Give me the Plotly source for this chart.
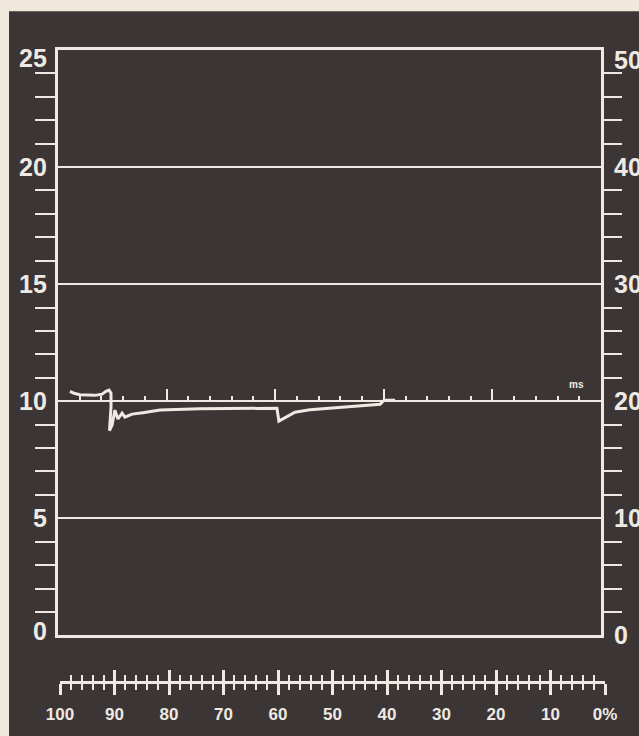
import plotly.graph_objects as go

# ---------------- data ----------------
trace_ms = [0.55, 0.74, 1.01, 1.70, 2.03, 2.21, 2.35, 2.44, 2.44, 2.39, 2.37, 2.49, 2.62,
            2.76, 2.95, 3.08, 3.41, 3.91, 4.70, 6.54, 8.84, 10.08, 10.17, 10.36, 10.91,
            11.60, 13.90, 14.83, 15.01, 15.52]
trace_val = [10.42, 10.34, 10.28, 10.25, 10.30, 10.42, 10.47, 10.34, 9.75, 9.11, 8.75, 8.98,
             9.62, 9.24, 9.49, 9.32, 9.45, 9.51, 9.62, 9.68, 9.70, 9.70, 9.15, 9.24, 9.53,
             9.64, 9.79, 9.87, 10.04, 10.04]

left_labels = [0, 5, 10, 15, 20, 25]
right_labels = [0, 10, 20, 30, 40, 50]
left_minor = [v for v in range(0, 26) if v % 5 != 0]
right_minor = [v for v in range(0, 51, 2) if v % 10 != 0]
ms_major = [5, 10, 15, 20]
ms_minor = [v for v in range(1, 25) if v % 5 != 0]
pct_vals = list(range(0, 101, 10))
pct_text = ["0%" if v == 0 else str(v) for v in pct_vals]
pct_minor = [v for v in range(0, 101, 2) if v % 10 != 0]

# ---------------- style ----------------
W, H = 639, 736
ML, MR, MT, MB = 58, 34, 50, 50
DARK = "#3b3535"
BEIGE = "#f1e8dc"
INK = "#eee9e2"
FONT = "Liberation Sans"

plot_w = W - ML - MR
plot_h = H - MT - MB
x_dom_end = (601 - ML) / plot_w
y_dom_start = (686 - 640) / plot_h
ms_line_value = 10
ms_pos = y_dom_start + ms_line_value / 25 * (1 - y_dom_start)

fig = go.Figure()

fig.add_trace(go.Scatter(x=trace_ms, y=trace_val, mode="lines",
                         line=dict(color=INK, width=3, shape="linear"),
                         xaxis="x", yaxis="y", showlegend=False, hoverinfo="skip"))
# helper empty traces to register axes
fig.add_trace(go.Scatter(x=[None], y=[None], xaxis="x", yaxis="y2", showlegend=False))
fig.add_trace(go.Scatter(x=[None], y=[None], xaxis="x2", yaxis="y3", showlegend=False))
fig.add_trace(go.Scatter(x=[None], y=[None], xaxis="x3", yaxis="y3", showlegend=False))
fig.add_trace(go.Scatter(x=[None], y=[None], xaxis="x4", yaxis="y", showlegend=False))

axis_off = dict(showgrid=False, zeroline=False, showticklabels=False)

fig.update_layout(
    width=W, height=H,
    margin=dict(l=ML, r=MR, t=MT, b=MB, pad=0),
    paper_bgcolor=DARK, plot_bgcolor="rgba(0,0,0,0)",
    showlegend=False,
    xaxis=dict(domain=[0, x_dom_end], range=[0, 25], anchor="y",
               showline=True, mirror=True, linecolor=INK, linewidth=3,
               ticks="", **axis_off),
    yaxis=dict(domain=[y_dom_start, 1], range=[0, 25], anchor="x",
               showline=True, mirror=True, linecolor=INK, linewidth=3,
               tickmode="array", tickvals=left_labels, ticks="",
               showgrid=True, gridcolor=INK, gridwidth=1.5,
               zeroline=False, showticklabels=False,
               minor=dict(tickmode="array", tickvals=left_minor, ticks="outside",
                          ticklen=20, tickwidth=2, tickcolor=INK, showgrid=False)),
    yaxis2=dict(range=[0, 50], overlaying="y", side="right", anchor="x",
                ticks="", showline=False, **axis_off,
                minor=dict(tickmode="array", tickvals=right_minor, ticks="outside",
                           ticklen=20, tickwidth=2, tickcolor=INK, showgrid=False)),
    yaxis3=dict(domain=[0, 0.03], range=[0, 1], visible=False, anchor="x2"),
    xaxis2=dict(domain=[2 / plot_w, 1], range=[100, 0], anchor="y3",
                showline=True, linecolor=INK, linewidth=2.5,
                tickmode="array", tickvals=pct_vals, ticktext=pct_text,
                ticks="outside", ticklen=11, tickwidth=2.5, tickcolor=INK,
                ticklabelstandoff=5,
                tickfont=dict(family=FONT, size=17, color=INK, weight="bold"),
                showgrid=False, zeroline=False,
                minor=dict(tickmode="array", tickvals=pct_minor, ticks="outside",
                           ticklen=6, tickwidth=2, tickcolor=INK, showgrid=False)),
    xaxis3=dict(range=[100, 0], overlaying="x2", anchor="y3",
                tickmode="array", tickvals=pct_vals,
                ticks="inside", ticklen=11, tickwidth=2.5, tickcolor=INK,
                showline=False, **axis_off,
                minor=dict(tickmode="array", tickvals=pct_minor, ticks="inside",
                           ticklen=6, tickwidth=2, tickcolor=INK, showgrid=False)),
    xaxis4=dict(range=[0, 25], overlaying="x", anchor="free", position=ms_pos,
                tickmode="array", tickvals=ms_major, ticks="inside",
                ticklen=12, tickwidth=1.5, tickcolor=INK,
                showline=False, **axis_off,
                minor=dict(tickmode="array", tickvals=ms_minor, ticks="inside",
                           ticklen=5, tickwidth=1.5, tickcolor=INK, showgrid=False)),
)

# paper edges (beige strips of the photographed page)
fig.add_shape(type="rect", xref="paper", yref="paper", layer="below",
              x0=-0.3, x1=(9 - ML) / plot_w, y0=-0.3, y1=1.3,
              fillcolor=BEIGE, line=dict(width=0))
fig.add_shape(type="rect", xref="paper", yref="paper", layer="below",
              x0=-0.3, x1=1.3, y0=(H - MB - 11) / plot_h, y1=1.3,
              fillcolor=BEIGE, line=dict(width=0))

lab_font = dict(family=FONT, size=25, color=INK, weight="bold")
left_shift = {25: -8, 0: 4}
right_shift = {50: -10, 0: 0}
for v in left_labels:
    fig.add_annotation(x=0, y=v, xref="x", yref="y", text=str(v), showarrow=False,
                       xanchor="right", yanchor="middle", xshift=-9,
                       yshift=left_shift.get(v, 0), font=lab_font)
for v in right_labels:
    fig.add_annotation(x=25, y=v, xref="x", yref="y2", text=str(v), showarrow=False,
                       xanchor="left", yanchor="middle", xshift=11,
                       yshift=right_shift.get(v, 0), font=lab_font)

fig.add_annotation(x=23.85, y=10.7, xref="x", yref="y", text="ms", showarrow=False,
                   font=dict(family=FONT, size=10, color=INK, weight="bold"))

fig.write_html(
    "out.html",
    config={"displayModeBar": False},
    post_script="document.body.style.margin='0';document.body.style.overflow='hidden';"
                "document.body.style.background='" + BEIGE + "';",
)
